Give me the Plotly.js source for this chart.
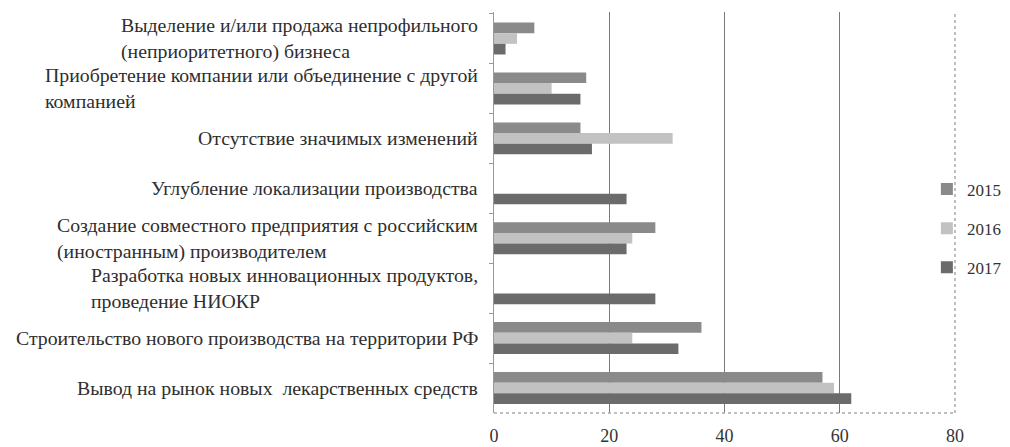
<!DOCTYPE html>
<html><head><meta charset="utf-8">
<script src="https://cdn.plot.ly/plotly-3.0.1.min.js"></script>
<style>html,body{margin:0;padding:0;background:#fff}#c{width:1010px;height:447px}</style>
</head><body><div id="c"></div>
<script>
const categories = [
  "Выделение и/или продажа непрофильного<br>(неприоритетного) бизнеса",
  "Приобретение компании или объединение с другой<br>компанией",
  "Отсутствие значимых изменений",
  "Углубление локализации производства",
  "Создание совместного предприятия с российским<br>(иностранным) производителем",
  "Разработка новых инновационных продуктов,<br>проведение НИОКР",
  "Строительство нового производства на территории РФ",
  "Вывод на рынок новых  лекарственных средств"
];
const years = ["2015", "2016", "2017"];
const v2015 = [7, 16, 15, null, 28, null, 36, 57];
const v2016 = [4, 10, 31, null, 24, null, 24, 59];
const v2017 = [2, 15, 17, 23, 23, 28, 32, 62];
const xTicks = [0, 20, 40, 60, 80];

const colors = ["#8a8a8a", "#c2c2c2", "#6b6b6b"];
const series = [v2015, v2016, v2017];
const data = series.map((vals, i) => ({
  type: "bar", orientation: "h", name: years[i], legendgroup: years[i],
  y: categories, x: vals, marker: {color: colors[i]}
}));

const fam = "Liberation Serif";
const labelAnns = categories.map(c => ({
  xref: "paper", yref: "y", x: 0, y: c, xanchor: "right", yanchor: "middle",
  xshift: -14, align: "left", text: c, showarrow: false,
  font: {family: fam, size: 19.8, color: "#2e2e2e"}
}));

const layout = {
  width: 1010, height: 447,
  margin: {l: 494, r: 55, t: 12, b: 34, autoexpand: false},
  paper_bgcolor: "#fff", plot_bgcolor: "#fff",
  barmode: "group", bargap: 0.36, bargroupgap: 0,
  font: {family: fam, size: 16, color: "#333"},
  showlegend: true,
  legend: {x: 0.939, y: 0.46, xanchor: "left", yanchor: "middle",
           font: {family: fam, size: 17, color: "#333"},
           itemwidth: 30, tracegroupgap: 14, bgcolor: "rgba(0,0,0,0)"},
  xaxis: {range: [0, 80], tickvals: xTicks, ticktext: xTicks.map(String), showgrid: true,
          gridcolor: "#7a7a7a", gridwidth: 1.2, zeroline: false, showline: false, ticks: "",
          ticklabelstandoff: 10, tickfont: {family: fam, size: 18, color: "#333"}},
  yaxis: {type: "category", autorange: "reversed", showline: true, linecolor: "#999", linewidth: 1,
          ticks: "outside", tickson: "boundaries", ticklen: 4, tickcolor: "#999",
          showticklabels: false, showgrid: false},
  annotations: labelAnns,
  shapes: [
    {type: "line", xref: "paper", yref: "paper", x0: 0, x1: 1, y0: 0, y1: 0, line: {color: "#aaa", width: 1.5, dash: "dot"}},
    {type: "line", xref: "paper", yref: "paper", x0: 1, x1: 1, y0: 0, y1: 1, line: {color: "#aaa", width: 1.5, dash: "dot"}}
  ]
};
Plotly.newPlot("c", data, layout, {staticPlot: true});
</script></body></html>
